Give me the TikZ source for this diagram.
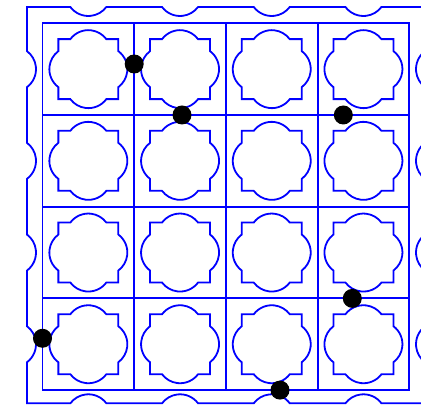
\documentclass[tikz,border=0pt]{standalone}
\begin{document}
\begin{tikzpicture}[x=1pt,y=1pt,
  line/.style={draw=blue, line width=1.8pt, line join=miter},
  dot/.style={circle, fill=black, minimum size=19pt, inner sep=0pt}]
\useasboundingbox (0,0) rectangle (421,406);
\clip (0,0) rectangle (421,406);
\fill[white] (0,0) rectangle (421,406);
% grid
\draw[line] (42.5,15.9) rectangle (409.3,382.7);
\foreach \i in {1,2,3} {
  \draw[line] ({42.5+91.7*\i},15.9) -- ({42.5+91.7*\i},382.7);
  \draw[line] (42.5,{15.9+91.7*\i}) -- (409.3,{15.9+91.7*\i});
}
% tiles
\foreach \i in {0,...,3} {
  \foreach \j in {0,...,3} {
    \draw[line] ({88.35+91.7*\i-30},{61.75+91.7*\j+30})
      -- ++(12,0) arc[start angle=143.13, end angle=36.87, radius=22.5]
      -- ++(12,0) -- ++(0,-12) arc[start angle=53.13, end angle=-53.13, radius=22.5]
      -- ++(0,-12) -- ++(-12,0) arc[start angle=-36.87, end angle=-143.13, radius=22.5]
      -- ++(-12,0) -- ++(0,12) arc[start angle=233.13, end angle=126.87, radius=22.5]
      -- cycle;
  }
}
% outer frame
\draw[line] (27,399)
  \foreach \x in {88.35,180.05,271.75,363.45} { -- ({\x-18},399) arc[start angle=216.87, end angle=323.13, radius=22.5] }
  -- (425,399)
  \foreach \y in {336.85,245.15,153.45,61.75} { -- (425,{\y+18}) arc[start angle=126.87, end angle=233.13, radius=22.5] }
  -- (425,2.7)
  \foreach \x in {363.45,271.75,180.05,88.35} { -- ({\x+18},2.7) arc[start angle=36.87, end angle=143.13, radius=22.5] }
  -- (27,2.7)
  \foreach \y in {61.75,153.45,245.15,336.85} { -- (27,{\y-18}) arc[start angle=-53.13, end angle=53.13, radius=22.5] }
  -- cycle;
% dots
\node[dot] (d1) at (134.2,342) {};
\node[dot] (d2) at (182,291) {};
\node[dot] (d3) at (343.3,291) {};
\node[dot] (d4) at (42.5,67.7) {};
\node[dot] (d5) at (352.3,107.6) {};
\node[dot] (d6) at (280,15.9) {};
\end{tikzpicture}
\end{document}
